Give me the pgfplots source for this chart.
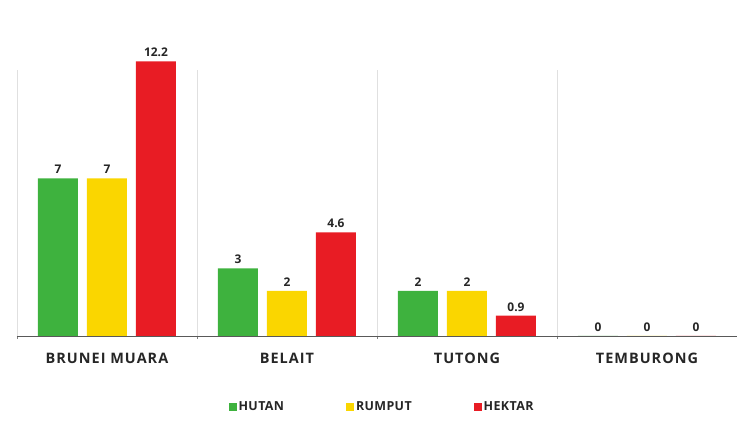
\documentclass[border=0pt]{standalone}
\usepackage{pgfplots}
\pgfplotsset{compat=1.18}
\usepackage{fontspec}
\setmainfont{Open Sans}

\definecolor{hutan}{RGB}{62,178,62}
\definecolor{rumput}{RGB}{250,214,0}
\definecolor{hektar}{RGB}{232,28,36}

\begin{document}
\begin{tikzpicture}
\begin{axis}[
  x=180bp, y=22.5bp,
  xmin=-0.5, xmax=3.5, ymin=0, ymax=11.8,
  clip=false,
  ybar=9bp, bar width=40bp,
  axis x line*=bottom, axis y line=none,
  x axis line style={draw=black!65, line width=0.8pt, -},
  xtick=data,
  xticklabels={BRUNEI MUARA, BELAIT, TUTONG, TEMBURONG},
  major tick length=0pt,
  xticklabel style={font=\fontsize{14.5}{16}\selectfont\bfseries\addfontfeature{LetterSpace=7}, text=black!85, yshift=-14bp},
  minor xtick={-0.5,0.5,1.5,2.5},
  xminorgrids,
  minor x grid style={draw=black!12, line width=0.6pt},
  /pgf/number format/assume math mode=true,
  nodes near coords={\pgfmathprintnumber[fixed,precision=1]{\pgfplotspointmeta}},
  every node near coord/.append style={font=\fontsize{12}{14}\selectfont\bfseries, text=black!85, yshift=1bp},
  legend columns=3,
  legend style={draw=none, fill=none, at={(0.507,-0.267)}, anchor=center,
    font=\fontsize{12.5}{14}\selectfont\bfseries\addfontfeature{LetterSpace=3}, text=black!85,
    /tikz/every even column/.append style={column sep=60bp}},
  legend image code/.code={\fill[#1,draw=none] (0bp,-4bp) rectangle (8bp,4bp);},
]
\addplot[fill=hutan, draw=none] coordinates {(0,7) (1,3) (2,2) (3,0)};
\addplot[fill=rumput, draw=none] coordinates {(0,7) (1,2) (2,2) (3,0)};
\addplot[fill=hektar, draw=none] coordinates {(0,12.2) (1,4.6) (2,0.9) (3,0)};
\legend{HUTAN, RUMPUT, HEKTAR}
\coordinate (bl) at (axis cs:-0.5944,-3.778);
\coordinate (tr) at (axis cs:3.5056,14.933);
\end{axis}
\pgfresetboundingbox
\path (bl) rectangle (tr);
\end{tikzpicture}
\end{document}
